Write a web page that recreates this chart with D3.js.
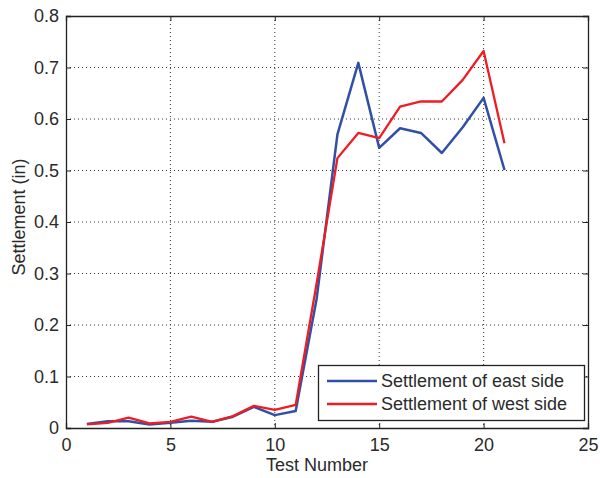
<!DOCTYPE html>
<html>
<head>
<meta charset="utf-8">
<script src="https://cdn.jsdelivr.net/npm/d3@7.9.0/dist/d3.min.js"></script>
<style>
  body { margin: 0; background: #fff; }
  text { font-family: "Liberation Sans", Arial, sans-serif; fill: #2a2a2a; }
</style>
</head>
<body>
<svg id="chart" width="600" height="478"></svg>
<script>
const testNumbers = d3.range(1, 22);
const eastSide = [0.008, 0.013, 0.013, 0.007, 0.010, 0.014, 0.012, 0.022, 0.041, 0.025, 0.033,
                  0.25, 0.57, 0.709, 0.544, 0.582, 0.573, 0.534, 0.584, 0.641, 0.501];
const westSide = [0.007, 0.010, 0.020, 0.009, 0.012, 0.022, 0.012, 0.023, 0.043, 0.035, 0.045,
                  0.28, 0.524, 0.573, 0.563, 0.624, 0.634, 0.634, 0.676, 0.732, 0.553];
const xTicks = [0, 5, 10, 15, 20, 25];
const yTicks = [0, 0.1, 0.2, 0.3, 0.4, 0.5, 0.6, 0.7, 0.8];
const seriesNames = ["Settlement of east side", "Settlement of west side"];
const seriesColors = ["#3050a6", "#ee1c24"];

const svg = d3.select('#chart');
const mLeft = 66, mRight = 588, mTop = 16, mBottom = 428;
const fontSize = 18;

const x = d3.scaleLinear().domain([0, 25]).range([mLeft, mRight]);
const y = d3.scaleLinear().domain([0, 0.8]).range([mBottom, mTop]);

// grid
svg.append('g').selectAll('line')
  .data(xTicks.slice(1, -1))
  .join('line')
  .attr('x1', d => x(d)).attr('x2', d => x(d))
  .attr('y1', mTop).attr('y2', mBottom)
  .attr('stroke', '#333').attr('stroke-width', 1).attr('stroke-dasharray', '1,3');

svg.append('g').selectAll('line')
  .data(yTicks.slice(1, -1))
  .join('line')
  .attr('x1', mLeft).attr('x2', mRight)
  .attr('y1', d => y(d)).attr('y2', d => y(d))
  .attr('stroke', '#333').attr('stroke-width', 1).attr('stroke-dasharray', '1,3');

// axes (ticks pointing inward)
const xAxis = d3.axisBottom(x).tickValues(xTicks).tickSize(-5).tickPadding(10).tickFormat(d3.format('d'));
const yAxis = d3.axisLeft(y).tickValues(yTicks).tickSize(-5).tickPadding(7).tickFormat(d => d === 0 ? '0' : d3.format('.1f')(d));

const gx = svg.append('g').attr('transform', `translate(0,${mBottom})`).call(xAxis);
const gy = svg.append('g').attr('transform', `translate(${mLeft},0)`).call(yAxis);
const gxTop = svg.append('g').attr('transform', `translate(0,${mTop})`)
  .call(d3.axisTop(x).tickValues(xTicks).tickSize(-5).tickFormat(''));
const gyRight = svg.append('g').attr('transform', `translate(${mRight},0)`)
  .call(d3.axisRight(y).tickValues(yTicks).tickSize(-5).tickFormat(''));

[gx, gy, gxTop, gyRight].forEach(g => {
  g.select('.domain').attr('stroke', '#222').attr('stroke-width', 1.3);
  g.selectAll('.tick line').attr('stroke', '#222');
  g.selectAll('.tick text').attr('font-size', fontSize).attr('fill', '#2a2a2a')
    .style('font-family', '"Liberation Sans", Arial, sans-serif');
});

// lines
const line = d3.line().x((d, i) => x(testNumbers[i])).y(d => y(d));
svg.append('path').datum(eastSide)
  .attr('d', line).attr('fill', 'none')
  .attr('stroke', seriesColors[0]).attr('stroke-width', 2.5).attr('stroke-linejoin', 'round');
svg.append('path').datum(westSide)
  .attr('d', line).attr('fill', 'none')
  .attr('stroke', seriesColors[1]).attr('stroke-width', 2.3).attr('stroke-linejoin', 'round');

// axis labels
svg.append('text')
  .attr('x', 317).attr('y', 471)
  .attr('text-anchor', 'middle').attr('font-size', fontSize)
  .text('Test Number');

svg.append('text')
  .attr('transform', `translate(25,217) rotate(-90)`)
  .attr('text-anchor', 'middle').attr('font-size', fontSize)
  .text('Settlement (in)');

// legend
const legend = svg.append('g');
legend.append('rect')
  .attr('x', 318.5).attr('y', 365.5).attr('width', 266).attr('height', 55)
  .attr('fill', '#fff').attr('stroke', '#222').attr('stroke-width', 1.3);

seriesNames.forEach((name, i) => {
  const ly = 381 + i * 23;
  legend.append('line')
    .attr('x1', 327).attr('x2', 377).attr('y1', ly).attr('y2', ly)
    .attr('stroke', seriesColors[i]).attr('stroke-width', 2.3);
  legend.append('text')
    .attr('x', 381).attr('y', ly + 6)
    .attr('font-size', fontSize)
    .text(name);
});
</script>
</body>
</html>
